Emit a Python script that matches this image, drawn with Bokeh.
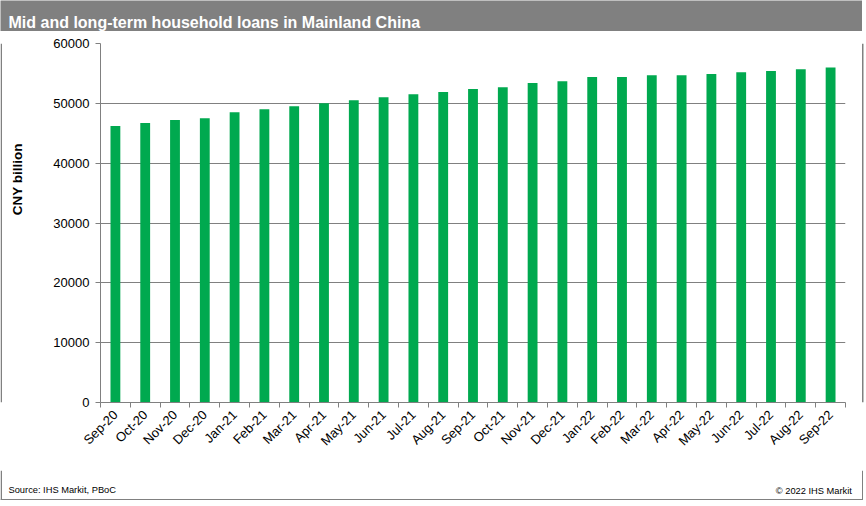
import math
from bokeh.plotting import figure
from bokeh.layouts import column, row
from bokeh.models import (Range1d, LinearAxis, FixedTicker, Label, Grid, Span, ColumnDataSource)
from bokeh.embed import file_html
from bokeh.resources import INLINE

months = ["Sep-20", "Oct-20", "Nov-20", "Dec-20", "Jan-21", "Feb-21", "Mar-21", "Apr-21",
          "May-21", "Jun-21", "Jul-21", "Aug-21", "Sep-21", "Oct-21", "Nov-21", "Dec-21",
          "Jan-22", "Feb-22", "Mar-22", "Apr-22", "May-22", "Jun-22", "Jul-22", "Aug-22", "Sep-22"]
loans = [46200, 46700, 47200, 47500, 48500, 49000, 49500, 50000, 50500, 51000, 51500, 51900,
         52400, 52700, 53400, 53700, 54400, 54400, 54700, 54700, 54900, 55200, 55400, 55700, 56000]
y_ticks = [0, 10000, 20000, 30000, 40000, 50000, 60000]

title_text = "Mid and long-term household loans in Mainland China"
y_label = "CNY billion"
source_text = "Source:  IHS Markit, PBoC"
copyright_text = "\u00a9 2022  IHS Markit"

FONT = "Liberation Sans"
GRAY = "#808080"
GREEN = "#00A94F"

HDR_H, MID_H, FOOT_H = 31, 439, 30
LEFT_W, MAIN_W, RIGHT_W = 30, 831, 5


def blank(width, height, bg="white"):
    f = figure(width=width, height=height, x_range=Range1d(0, width), y_range=Range1d(height, 0),
               output_backend="svg", toolbar_location=None, x_axis_location=None, y_axis_location=None,
               min_border=0, min_border_left=0, min_border_right=0, min_border_top=0, min_border_bottom=0)
    f.outline_line_color = None
    f.background_fill_color = bg
    f.border_fill_color = bg
    f.grid.visible = False
    return f


# ---- header bar
hdr = blank(862, HDR_H, GRAY)
hdr.add_layout(Label(x=8, y=22, text=title_text, text_font=FONT, text_font_style="bold",
                     text_font_size="16px", text_color="white", text_baseline="alphabetic"))

# ---- left strip with axis title and frame border
lf = blank(LEFT_W, MID_H)
lf.add_layout(Span(location=0.75, dimension="height", line_color=GRAY, line_width=1.5))
lf.add_layout(Label(x=17, y=166, text=y_label, angle=math.pi / 2, text_font=FONT,
                    text_font_style="bold", text_font_size="13.5px", text_color="black",
                    text_align="center", text_baseline="middle"))

# ---- right strip with frame border
rf = blank(RIGHT_W, MID_H)
rf.add_layout(Span(location=1.25, dimension="height", line_color=GRAY, line_width=1.5))

# ---- main chart
n = len(months)
centers = [i + 0.5 for i in range(n)]
bounds = list(range(n + 1))
src = ColumnDataSource(dict(x=centers, top=loans, month=months))

p = figure(width=MAIN_W, height=MID_H, x_range=Range1d(0, n), y_range=Range1d(0, 60000),
           output_backend="svg", toolbar_location=None,
           x_axis_location=None, y_axis_location=None,
           min_border_left=70, min_border_right=16, min_border_top=12, min_border_bottom=68)
p.outline_line_color = None
p.background_fill_color = "white"
p.border_fill_color = "white"
for g in p.grid:
    g.visible = False

p.add_layout(Grid(dimension=1, ticker=FixedTicker(ticks=y_ticks), grid_line_color=GRAY, grid_line_width=1))
p.vbar(x="x", top="top", width=0.33, color=GREEN, line_color=None, source=src)

yax = LinearAxis(ticker=FixedTicker(ticks=y_ticks))
yax.axis_line_color = GRAY
yax.major_tick_line_color = GRAY
yax.major_tick_out = 5
yax.major_tick_in = 0
yax.minor_tick_line_color = None
yax.major_label_standoff = 6
yax.major_label_text_font = FONT
yax.major_label_text_font_size = "13px"
yax.major_label_text_color = "#000000"
p.add_layout(yax, "left")

xax = LinearAxis(ticker=FixedTicker(ticks=centers, minor_ticks=bounds),
                 major_label_overrides={c: m for c, m in zip(centers, months)})
xax.axis_line_color = GRAY
xax.major_tick_line_color = None
xax.major_tick_out = 5
xax.major_tick_in = 0
xax.minor_tick_line_color = GRAY
xax.minor_tick_line_width = 1
xax.minor_tick_out = 5
xax.minor_tick_in = 0
xax.major_label_orientation = math.pi / 4
xax.major_label_standoff = 5
xax.major_label_text_font = FONT
xax.major_label_text_font_size = "13px"
xax.major_label_text_color = "#000000"
p.add_layout(xax, "below")

# ---- footer (bottom part of the frame border)
ft = blank(863, FOOT_H)
ft.add_layout(Span(location=0.75, dimension="height", line_color=GRAY, line_width=1.5))
ft.add_layout(Span(location=862.25, dimension="height", line_color=GRAY, line_width=1.5))
ft.add_layout(Span(location=29.25, dimension="width", line_color=GRAY, line_width=1.5))
ft.add_layout(Label(x=8, y=19, text=source_text, text_font=FONT, text_font_size="9.3px",
                    text_color="black", text_baseline="alphabetic"))
ft.add_layout(Label(x=854, y=20, text=copyright_text, text_font=FONT, text_font_size="9.3px",
                    text_color="black", text_baseline="alphabetic", text_align="right"))

layout = column(hdr, row(lf, p, rf, spacing=0), ft, spacing=0)

html = file_html(layout, INLINE)
html = html.replace("<head>", "<head><style>html,body{margin:0;padding:0;overflow:hidden}</style>", 1)
open("out.html", "w").write(html)
